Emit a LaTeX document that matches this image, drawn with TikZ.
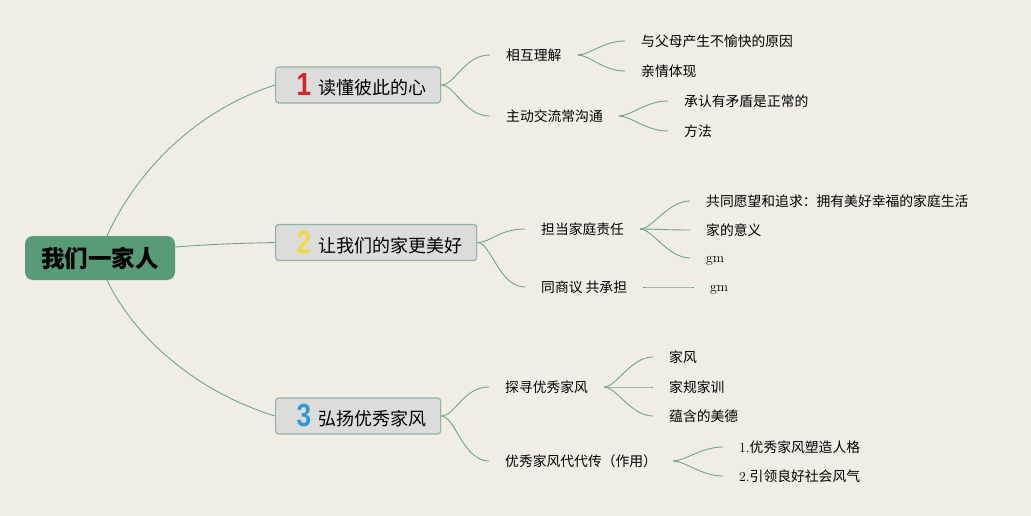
\documentclass[tikz,border=0pt]{standalone}
\usepackage{fontspec}
\usepackage{graphicx}
\newfontfamily\cjk{Noto Sans CJK SC}
\newfontfamily\numfont{Liberation Sans}
\definecolor{bgcol}{HTML}{F0EEE4}
\definecolor{rootgreen}{HTML}{589B77}
\definecolor{linegreen}{HTML}{6FA38C}
\definecolor{boxgray}{HTML}{DCDCDB}
\definecolor{boxedge}{HTML}{8DB4A6}
\definecolor{numred}{HTML}{D6242B}
\definecolor{numyellow}{HTML}{F4D84B}
\definecolor{numblue}{HTML}{2F9AD8}
\newcommand\bignum[2]{\makebox[22pt][l]{\raisebox{-1.5pt}{\scalebox{0.82}[1]{\numfont\bfseries\fontsize{32}{32}\selectfont\color{#1}#2}}}}
\tikzset{
  rootbox/.style={fill=rootgreen, rounded corners=8pt, minimum width=150pt, minimum height=44pt, inner sep=0pt, text=black, font=\cjk\bfseries\fontsize{23.5}{24}\selectfont},
  branchbox/.style={fill=boxgray, draw=boxedge, line width=1.2pt, rounded corners=3pt, minimum height=36pt, inner xsep=21pt, inner ysep=0pt, anchor=west, font=\cjk\fontsize{18}{18}\selectfont},
  subtext/.style={anchor=west, inner xsep=16pt, inner ysep=2pt, font=\cjk\fontsize{13.8}{14}\selectfont},
  conn/.style={draw=linegreen, line width=0.9pt}
}
\begin{document}
\begin{tikzpicture}[x=1pt,y=-1pt]
\path[fill=bgcol] (0,0) rectangle (1031,516);
% root
\node[rootbox] (root) at (100,258) {我们一家人};
% branches
\node[branchbox] (b1) at (275,85) {\makebox[123pt][l]{\bignum{numred}{1}读懂彼此的心}};
\node[branchbox] (b2) at (275,242.5) {\makebox[159pt][l]{\bignum{numyellow}{2}让我们的家更美好}};
\node[branchbox] (b3) at (275,416) {\makebox[123pt][l]{\bignum{numblue}{3}弘扬优秀家风}};
% subtopics
\node[subtext] (s11) at (490,55) {相互理解};
\node[subtext] (s12) at (490,116) {主动交流常沟通};
\node[subtext] (s21) at (525,229) {担当家庭责任};
\node[subtext] (s22) at (525,287) {同商议 共承担};
\node[subtext] (s31) at (489,387) {探寻优秀家风};
\node[subtext] (s32) at (489,461) {优秀家风代代传（作用）};
% leaves
\node[subtext] (l111) at (625,41) {与父母产生不愉快的原因};
\node[subtext] (l112) at (625,71) {亲情体现};
\node[subtext] (l121) at (668,101) {承认有矛盾是正常的};
\node[subtext] (l122) at (668,131) {方法};
\node[subtext] (l211) at (690,201) {共同愿望和追求：拥有美好幸福的家庭生活};
\node[subtext] (l212) at (690,230) {家的意义};
\node[subtext] (l213) at (690,258) {\vphantom{家}\rmfamily gm};
\node[subtext] (l221) at (694,287) {\vphantom{家}\rmfamily gm};
\node[subtext] (l311) at (653,357) {家风};
\node[subtext] (l312) at (653,387) {家规家训};
\node[subtext] (l313) at (653,416) {蕴含的美德};
\node[subtext] (l321) at (723,447) {{\rmfamily 1.}优秀家风塑造人格};
\node[subtext] (l322) at (723,476) {{\rmfamily 2.}引领良好社会风气};
% root connectors
\draw[conn] ([xshift=7pt]root.north) .. controls +(30,-65) and +(-80,26) .. (b1.west);
\draw[conn] ([yshift=11pt]root.east) .. controls +(40,-3) and +(-40,1) .. (b2.west);
\draw[conn] ([xshift=7pt]root.south) .. controls +(28,58) and +(-78,-24) .. (b3.west);
% branch to subtopic
\foreach \a/\b in {b1/s11,b1/s12,b2/s21,b2/s22,b3/s31,b3/s32}
  \draw[conn] (\a.east) .. controls +(14,0) and +(-26,0) .. (\b.west);
% subtopic to leaf
\foreach \a/\b in {s11/l111,s11/l112,s12/l121,s12/l122,s21/l211,s21/l212,s21/l213,s22/l221,s31/l311,s31/l312,s31/l313,s32/l321,s32/l322}
  \draw[conn] (\a.east) .. controls +(12,0) and +(-22,0) .. (\b.west);
\end{tikzpicture}
\end{document}
